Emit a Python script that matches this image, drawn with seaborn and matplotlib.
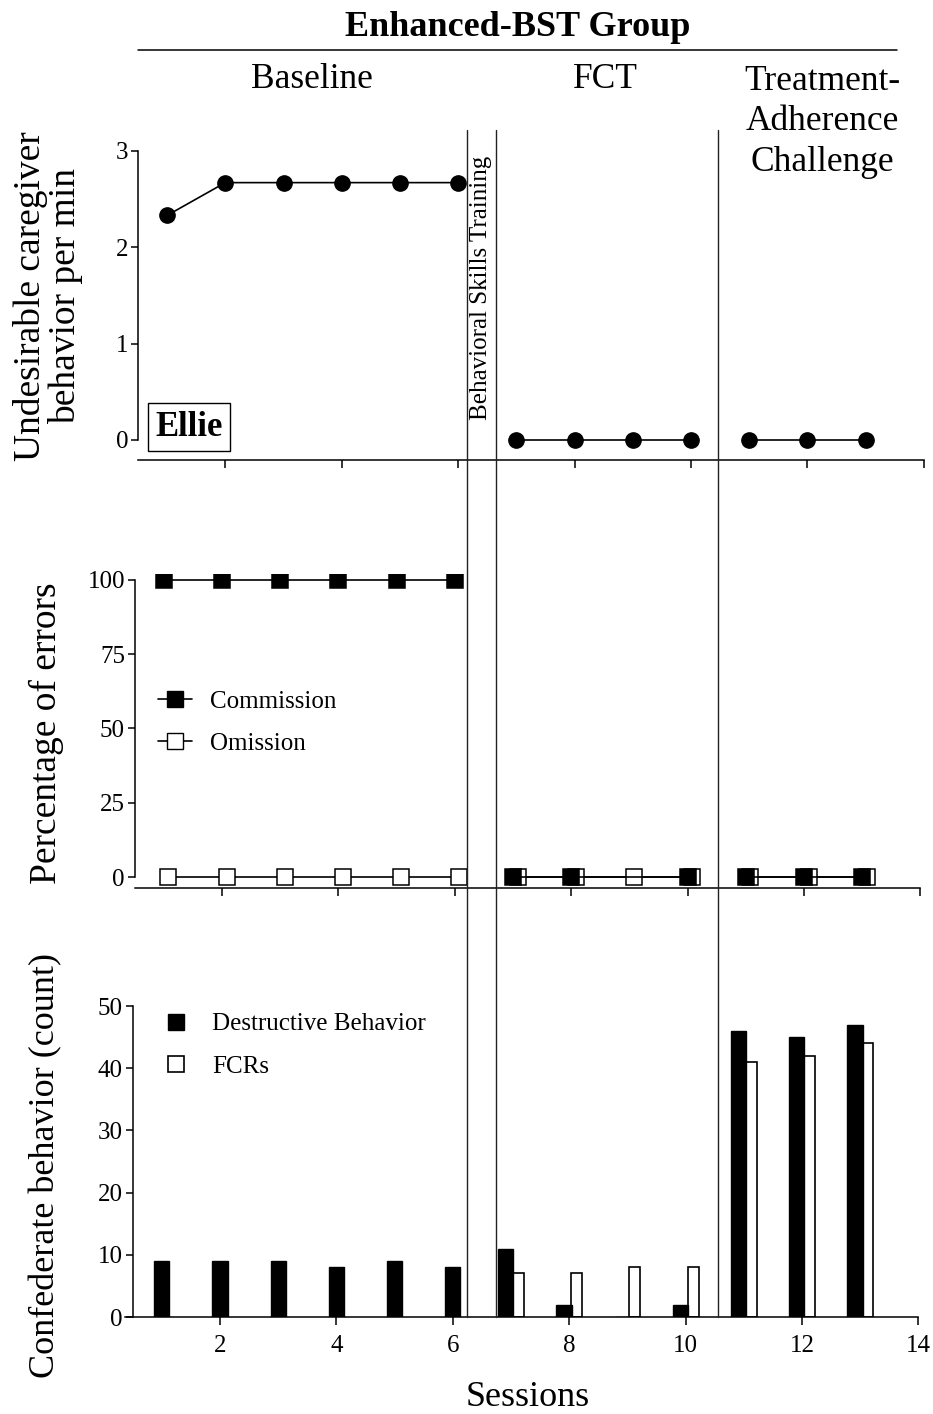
import numpy as np
import pandas as pd
import matplotlib
matplotlib.use("Agg")
import matplotlib.pyplot as plt
import seaborn as sns
from matplotlib.lines import Line2D
from matplotlib.transforms import blended_transform_factory

# ---------------- data ----------------
sessions_bl = [1, 2, 3, 4, 5, 6]
sessions_fct = [7, 8, 9, 10]
sessions_tac = [11, 12, 13]

caregiver_bl = [2.33, 2.67, 2.67, 2.67, 2.67, 2.67]
caregiver_fct = [0, 0, 0, 0]
caregiver_tac = [0, 0, 0]

commission_bl = [100, 100, 100, 100, 100, 100]
commission_fct = [0, 0, np.nan, 0]
commission_tac = [0, 0, 0]
omission_bl = [0, 0, 0, 0, 0, 0]
omission_fct = [0, 0, 0, 0]
omission_tac = [0, 0, 0]

destructive_bl = [9, 9, 9, 8, 9, 8]
destructive_fct = [11, 2, 0, 2]
fcr_fct = [7, 7, 8, 8]
destructive_tac = [46, 45, 47]
fcr_tac = [41, 42, 44]

phase_changes = [6.24, 6.74, 10.56]
phase_names = ["Baseline", "FCT", "Treatment-\nAdherence\nChallenge"]
x_ticks = [2, 4, 6, 8, 10, 12, 14]

# ---------------- style ----------------
sns.set_theme(style="ticks")
plt.rcParams["font.family"] = ["Liberation Serif", "DejaVu Serif"]
plt.rcParams["axes.linewidth"] = 1.1
plt.rcParams["xtick.major.width"] = 1.1
plt.rcParams["ytick.major.width"] = 1.1
plt.rcParams["text.color"] = "black"
plt.rcParams["axes.labelcolor"] = "black"
plt.rcParams["xtick.color"] = "black"
plt.rcParams["ytick.color"] = "black"
plt.rcParams["axes.edgecolor"] = "black"

W, H = 933, 1414
fig = plt.figure(figsize=(W / 100, H / 100), dpi=100)


def px_axes(left, top, right, bottom):
    return fig.add_axes([left / W, 1 - bottom / H, (right - left) / W, (bottom - top) / H])


ax1 = px_axes(138, 146, 923.8, 460.2)
ax2 = px_axes(134.7, 574, 920.4, 888)
ax3 = px_axes(125.1, 1003, 918.4, 1317)


def phase_df(sess_lists, val_lists):
    rows = []
    for ph, (s, v) in enumerate(zip(sess_lists, val_lists)):
        for si, vi in zip(s, v):
            rows.append({"session": si, "value": vi, "phase": ph})
    return pd.DataFrame(rows)


sess_all = [sessions_bl, sessions_fct, sessions_tac]

# ---------------- top panel ----------------
df_care = phase_df(sess_all, [caregiver_bl, caregiver_fct, caregiver_tac])
sns.lineplot(data=df_care, x="session", y="value", units="phase", estimator=None,
             color="black", marker="o", markersize=11, markeredgecolor="black",
             markeredgewidth=1, linewidth=1.2, ax=ax1, sort=False, legend=False)
ax1.set_xlim(0.5, 14)
ax1.set_ylim(-0.21, 3.05)
ax1.set_yticks([0, 1, 2, 3])
ax1.spines["left"].set_bounds(0, 3)

# ---------------- middle panel ----------------
df_om = phase_df(sess_all, [omission_bl, omission_fct, omission_tac])
df_om["session"] = df_om["session"] + 0.08
df_com = phase_df(sess_all, [commission_bl, commission_fct, commission_tac])
sns.lineplot(data=df_om, x="session", y="value", units="phase", estimator=None,
             color="black", marker="s", markersize=11, markerfacecolor="white",
             markeredgecolor="black", markeredgewidth=1.1, linewidth=1.2, ax=ax2,
             sort=False, legend=False)
sns.lineplot(data=df_com, x="session", y="value", units="phase", estimator=None,
             color="black", marker="s", markersize=11, markerfacecolor="black",
             markeredgecolor="black", markeredgewidth=1.1, linewidth=1.2, ax=ax2,
             sort=False, legend=False)
ax2.set_xlim(0.5, 14)
ax2.set_ylim(-3.7, 102)
ax2.set_yticks([0, 25, 50, 75, 100])
ax2.spines["left"].set_bounds(0, 100)
h_com = Line2D([], [], color="black", lw=1.2, marker="s", ms=11, mfc="black", mec="black")
h_om = Line2D([], [], color="black", lw=1.2, marker="s", ms=11, mfc="white", mec="black")
ax2.legend([h_com, h_om], ["Commission", "Omission"], loc="upper left",
           bbox_to_anchor=(158 / W, 1 - 690 / H), bbox_transform=fig.transFigure,
           frameon=False, fontsize=18, handlelength=1.36, handletextpad=0.72,
           labelspacing=0.8, borderpad=0, borderaxespad=0)

# ---------------- bottom panel ----------------
ax3.bar(sessions_bl, destructive_bl, width=0.26, color="black", edgecolor="black", linewidth=1)
ax3.bar([s + 0.035 for s in sessions_fct + sessions_tac], fcr_fct + fcr_tac, width=0.19,
        align="edge", color="white", edgecolor="black", linewidth=1.2)
ax3.bar([s - 0.09 for s in sessions_fct + sessions_tac], destructive_fct + destructive_tac,
        width=0.26, color="black", edgecolor="black", linewidth=1)
ax3.set_xlim(0.37, 14)
ax3.set_ylim(0, 50.5)
ax3.set_yticks([0, 10, 20, 30, 40, 50])
ax3.spines["left"].set_position(("data", 0.5))
ax3.spines["left"].set_bounds(0, 50)
h_d = Line2D([], [], ls="none", marker="s", ms=11, mfc="black", mec="black")
h_f = Line2D([], [], ls="none", marker="s", ms=11, mfc="white", mec="black", mew=1.2)
ax3.legend([h_d, h_f], ["Destructive Behavior", "FCRs"], loc="upper left",
           bbox_to_anchor=(163 / W, 1 - 1013 / H), bbox_transform=fig.transFigure,
           frameon=False, fontsize=18, handlelength=1.0, handletextpad=0.95,
           labelspacing=0.8, borderpad=0, borderaxespad=0)

# ---------------- common axis styling ----------------
for ax in (ax1, ax2, ax3):
    sns.despine(ax=ax)
    ax.set_xticks(x_ticks)
    ax.set_xlabel("")
    ax.set_ylabel("")
    ax.tick_params(axis="x", direction="out", length=6, width=1.1, labelsize=18, pad=7, color="black")
    ax.tick_params(axis="y", direction="out", length=5, width=1.1, labelsize=18, pad=2, color="black")
    ax.patch.set_alpha(0)
    for sp in ax.spines.values():
        sp.set_color("black")
ax1.tick_params(axis="x", labelbottom=False)
ax2.tick_params(axis="x", labelbottom=False)

# ---------------- phase change lines ----------------
trans = blended_transform_factory(ax3.transData, fig.transFigure)
for xc in phase_changes:
    fig.add_artist(Line2D([xc, xc], [1 - 1317 / H, 1 - 130 / H], transform=trans,
                          color="#222222", lw=1.0))

# ---------------- texts ----------------
fig.text(518 / W, 1 - 28 / H, "Enhanced-BST Group", ha="center", va="center",
         fontsize=26, fontweight="bold")
fig.add_artist(Line2D([138 / W, 897 / W], [1 - 50 / H, 1 - 50 / H], transform=fig.transFigure,
                      color="black", lw=1.1))
fig.text(312 / W, 1 - 80 / H, phase_names[0], ha="center", va="center", fontsize=25.5)
fig.text(605 / W, 1 - 80 / H, phase_names[1], ha="center", va="center", fontsize=25.5)
fig.text(822 / W, 1 - 122 / H, phase_names[2], ha="center", va="center", fontsize=25.5,
         linespacing=1.3)
fig.text(481 / W, 1 - 288 / H, "Behavioral Skills Training", ha="center", va="center",
         rotation=90, fontsize=18)
fig.text(189 / W, 1 - 427 / H, "Ellie", ha="center", va="center", fontsize=25,
         fontweight="bold",
         bbox=dict(boxstyle="square,pad=0.22", facecolor="white", edgecolor="black", lw=1))
fig.text(48 / W, 1 - 296 / H, "Undesirable caregiver\nbehavior per min", ha="center",
         va="center", rotation=90, fontsize=27, linespacing=1.0)
fig.text(46 / W, 1 - 733 / H, "Percentage of errors", ha="center", va="center",
         rotation=90, fontsize=27)
fig.text(46 / W, 1 - 1166 / H, "Confederate behavior (count)", ha="center", va="center",
         rotation=90, fontsize=26)
fig.text(528 / W, 1 - 1398 / H, "Sessions", ha="center", va="center", fontsize=26)

fig.savefig("out.png", dpi=100)
